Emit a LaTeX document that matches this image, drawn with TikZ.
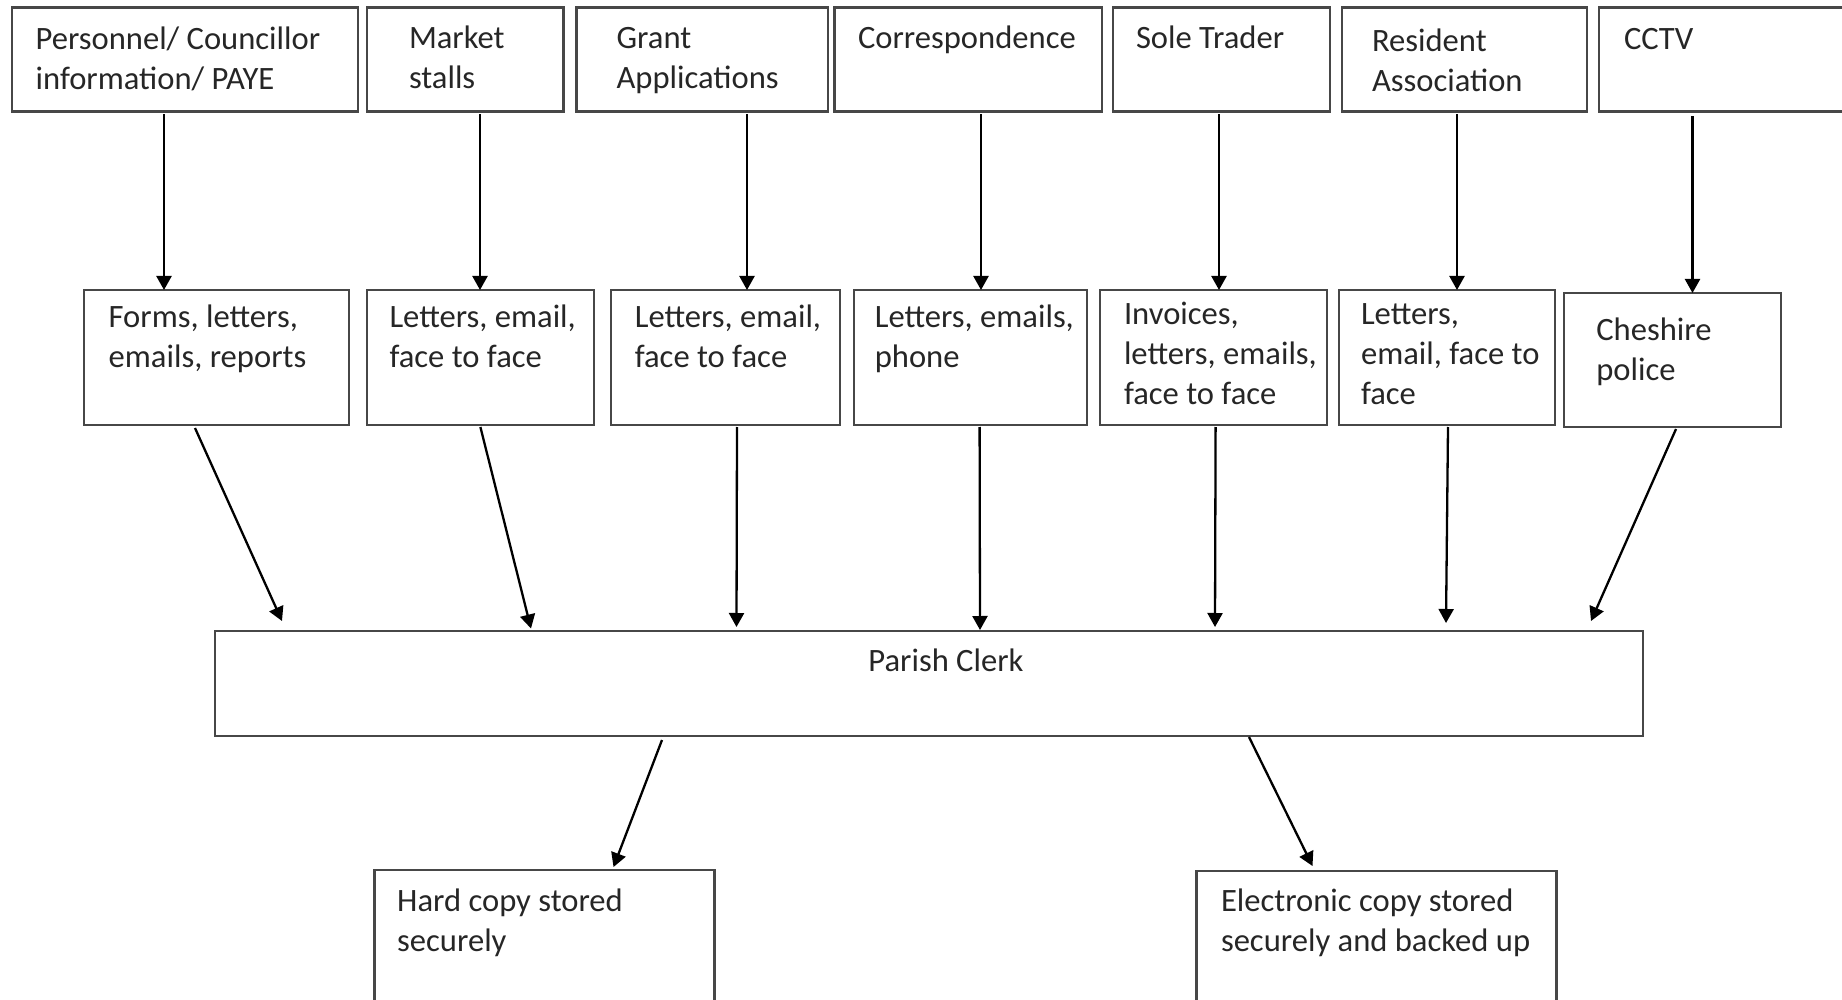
\documentclass[tikz,border=0pt]{standalone}
\usepackage{fontspec}
\setmainfont{Carlito}
\usetikzlibrary{arrows.meta}
\newcommand\mybox[5]{\node[box,anchor=north west,minimum width=#4pt,minimum height=#5pt] (#1) at (#2,#3) {};}
\begin{document}
\begin{tikzpicture}[x=1pt,y=-1pt,
  box/.style={draw=black!72, line width=2.2pt, inner sep=0pt, outer sep=0pt},
  txt/.style={anchor=base west, inner sep=0pt, outer sep=0pt, align=left, text=black!85, font=\fontsize{32.6}{40}\selectfont},
  arr/.style={draw=black, line width=2.3pt, -{Triangle[length=14pt,width=15pt]}}]
\useasboundingbox (0,0) rectangle (1842,1000);
% top row
\mybox{p1}{12}{7.5}{346}{104}
\mybox{p2}{367}{7.5}{196.5}{104}
\mybox{p3}{576.5}{7.5}{251.5}{104}
\mybox{p4}{834.5}{7.5}{267.5}{104}
\mybox{p5}{1113}{7.5}{217}{104}
\mybox{p6}{1342}{7.5}{245}{104}
\mybox{p7}{1599}{7.5}{260}{104}
% second row
\mybox{m1}{84}{290}{265}{135}
\mybox{m2}{367}{290}{227}{135}
\mybox{m3}{611}{290}{229}{135}
\mybox{m4}{854}{290}{233}{135}
\mybox{m5}{1100}{290}{227}{135}
\mybox{m6}{1339}{290}{216}{135}
\mybox{m7}{1564}{293}{217}{134}
% clerk and storage
\mybox{pc}{215}{631}{1428}{105}
\mybox{hc}{374.5}{870}{340}{150}
\mybox{ec}{1196.5}{871}{360}{150}
% texts (anchored at the baseline of the last line)
\node[txt] (t1) at (35.6,89.3) {Personnel/ Councillor\\information/ PAYE};
\node[txt] (t2) at (409,89) {Market\\stalls};
\node[txt] (t3) at (616.6,89) {Grant\\Applications};
\node[txt] (t4) at (858,48.3) {Correspondence};
\node[txt] (t5) at (1136,48.3) {Sole Trader};
\node[txt] (t6) at (1372,91.7) {Resident\\Association};
\node[txt] (t7) at (1624,50) {CCTV};
\node[txt] (u1) at (108.7,367) {Forms, letters,\\emails, reports};
\node[txt] (u2) at (389.5,367) {Letters, email,\\face to face};
\node[txt] (u3) at (634.8,367) {Letters, email,\\face to face};
\node[txt] (u4) at (874.8,367) {Letters, emails,\\phone};
\node[txt] (u5) at (1124,404) {Invoices,\\letters, emails,\\face to face};
\node[txt] (u6) at (1361,404) {Letters,\\email, face to\\face};
\node[txt] (u7) at (1596.3,380.5) {Cheshire\\police};
\node[txt] (tc) at (868.4,671.7) {Parish Clerk};
\node[txt] (th) at (397.2,951.7) {Hard copy stored\\securely};
\node[txt] (te) at (1221,951.7) {Electronic copy stored\\securely and backed up};
% arrows top -> second row
\draw[arr] ([xshift=152pt,yshift=-3pt]p1.south west) -- ([xshift=80pt]m1.north west);
\draw[arr] ([xshift=113pt,yshift=-3pt]p2.south west) -- ([xshift=113pt]m2.north west);
\draw[arr] ([xshift=170.5pt,yshift=-3pt]p3.south west) -- ([xshift=136pt]m3.north west);
\draw[arr] ([xshift=146.5pt,yshift=-3pt]p4.south west) -- ([xshift=127pt]m4.north west);
\draw[arr] ([xshift=106pt,yshift=-3pt]p5.south west) -- ([xshift=119pt]m5.north west);
\draw[arr] ([xshift=115pt,yshift=-3pt]p6.south west) -- ([xshift=118pt]m6.north west);
\draw[arr] ([xshift=93.5pt,yshift=-5pt]p7.south west) -- ([xshift=128.5pt]m7.north west);
% arrows second row -> clerk
\draw[arr] ([xshift=111pt,yshift=-3pt]m1.south west) -- ([xshift=67pt,yshift=10pt]pc.north west);
\draw[arr] ([xshift=113.4pt,yshift=-2pt]m2.south west) -- ([xshift=316pt,yshift=2.5pt]pc.north west);
\draw[arr] ([xshift=126pt,yshift=-2pt]m3.south west) -- ([xshift=521.5pt,yshift=4pt]pc.north west);
\draw[arr] ([xshift=125.6pt,yshift=-2pt]m4.south west) -- ([xshift=765pt,yshift=1pt]pc.north west);
\draw[arr] ([xshift=115.6pt,yshift=-2pt]m5.south west) -- ([xshift=1000pt,yshift=4pt]pc.north west);
\draw[arr] ([xshift=109pt,yshift=-2pt]m6.south west) -- ([xshift=1231pt,yshift=8pt]pc.north west);
\draw[arr] ([xshift=112pt,yshift=-2pt]m7.south west) -- ([xshift=1376pt,yshift=10pt]pc.north west);
% arrows clerk -> storage
\draw[arr] ([xshift=447pt,yshift=-4pt]pc.south west) -- ([xshift=239pt,yshift=3pt]hc.north west);
\draw[arr] ([xshift=1034pt,yshift=-1pt]pc.south west) -- ([xshift=116pt,yshift=5pt]ec.north west);
\end{tikzpicture}
\end{document}
